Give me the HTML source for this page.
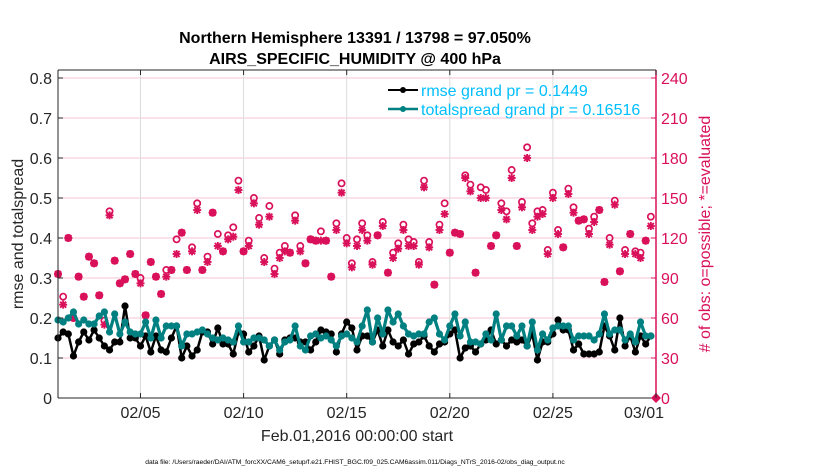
<!DOCTYPE html>
<html><head><meta charset="utf-8"><style>
body{margin:0;background:#fff;}
svg{display:block;font-family:"Liberation Sans",sans-serif;}
</style></head><body>
<svg id="chart" width="830" height="470" viewBox="0 0 830 470">
<rect x="0" y="0" width="830" height="470" fill="#fff"/>
<g id="grid"></g>
<g id="marks"></g>
<g id="axes"></g>
<text x="355" y="43" text-anchor="middle" font-size="16" font-weight="bold" fill="#000">Northern Hemisphere 13391 / 13798 = 97.050%</text>
<text x="355" y="64" text-anchor="middle" font-size="16" font-weight="bold" fill="#000">AIRS_SPECIFIC_HUMIDITY @ 400 hPa</text>
<text transform="translate(23,234) rotate(-90)" text-anchor="middle" font-size="16" fill="#262626">rmse and totalspread</text>
<text transform="translate(710,234) rotate(-90)" text-anchor="middle" font-size="16" fill="#d9105a"># of obs: o=possible; *=evaluated</text>
<text x="357" y="441" text-anchor="middle" font-size="16" fill="#262626">Feb.01,2016 00:00:00 start</text>
<text x="355" y="464" text-anchor="middle" font-size="6.7" fill="#000">data file: /Users/raeder/DAI/ATM_forcXX/CAM6_setup/f.e21.FHIST_BGC.f09_025.CAM6assim.011/Diags_NTrS_2016-02/obs_diag_output.nc</text>
<g>
<g>
<line x1="388" y1="90" x2="418" y2="90" stroke="#000" stroke-width="2"/>
<circle cx="403" cy="90" r="3" fill="#000"/>
<text x="421" y="96" font-size="16" fill="#00bfff">rmse grand pr = 0.1449</text>
</g>
<g>
<line x1="388" y1="109" x2="418" y2="109" stroke="#008080" stroke-width="2.5"/>
<circle cx="403" cy="109" r="3" fill="#008080"/>
<text x="421" y="115" font-size="16" fill="#00bfff">totalspread grand pr = 0.16516</text>
</g>
</g>
</svg>
<script>
const rmse=[.15,.165,.16,.105,.14,.165,.145,.17,.15,.13,.12,.14,.14,.23,.15,.15,.13,.155,.115,.155,.12,.115,.15,.18,.10,.13,.105,.12,.165,.165,.135,.175,.135,.135,.11,.165,.16,.115,.13,.155,.095,.13,.145,.11,.145,.15,.15,.14,.14,.12,.14,.17,.165,.16,.115,.16,.19,.175,.12,
.155,.155,.14,.17,.13,.17,.14,.13,.145,.11,.135,.14,.155,.13,.115,.135,.14,.16,.17,.10,.125,.13,.115,.135,.145,.17,.135,.145,.13,.145,.14,.145,.13,.16,.095,.14,.14,.16,.195,.17,.17,.12,.135,.11,.11,.11,.115,.18,.155,.12,.20,.13,.155,.115,.155,.135,.155];
const spread=[.195,.19,.20,.215,.185,.195,.185,.185,.205,.215,.165,.21,.16,.19,.165,.16,.16,.19,.15,.195,.15,.18,.18,.18,.13,.16,.16,.165,.17,.16,.15,.145,.15,.145,.14,.18,.14,.14,.15,.15,.145,.13,.145,.12,.14,.145,.18,.13,.12,.155,.16,.15,.155,.145,.13,.155,.16,.15,.14,
.18,.22,.14,.20,.16,.22,.19,.21,.18,.16,.155,.16,.16,.19,.20,.16,.145,.18,.21,.155,.19,.14,.14,.135,.16,.145,.21,.145,.18,.18,.155,.18,.13,.19,.12,.16,.145,.175,.18,.18,.18,.145,.155,.155,.155,.145,.16,.21,.16,.17,.17,.145,.16,.14,.19,.155,.155];
const evaluated=[93,70,120,60,91,76,106,101,77,55,137,103,86,89,108,93,86,62,102,91,78,91,96,108,124,96,110,141,96,
102,139,114,110,119,121,156,110,114,146,130,102,136,93,105,110,109,133,110,101,119,118,118,118,91,126,154,116,
98,114,126,118,100,122,129,94,105,112,126,114,114,100,158,113,85,126,138,109,124,123,165,155,94,150,150,114,122,141,
134,165,114,143,180,126,136,138,108,150,123,113,153,139,133,134,123,132,141,87,115,145,95,108,123,108,105,118,129];
const possible=[93,76,120,60,91,76,106,101,77,58,140,103,86,89,108,93,90,62,102,91,78,96,96,119,124,96,113,146,96,
106,139,123,110,122,128,163,110,118,150,135,105,144,97,109,114,109,137,114,101,119,118,125,118,91,131,161,120,
101,119,131,122,102,122,132,94,109,116,130,119,117,102,163,117,85,130,146,109,124,123,167,160,94,158,156,114,122,146,
140,171,114,147,188,131,140,141,111,154,126,113,157,143,133,134,127,136,141,87,120,148,95,111,123,110,109,118,136];
const leftTicks=[0,0.1,0.2,0.3,0.4,0.5,0.6,0.7,0.8];
const leftTickLabels=["0","0.1","0.2","0.3","0.4","0.5","0.6","0.7","0.8"];
const rightTicks=[0,30,60,90,120,150,180,210,240];
const dateTicks=[4,9,14,19,24,29];
const dateTickLabels=["02/05","02/10","02/15","02/20","02/25","03/01"];

const NS="http://www.w3.org/2000/svg";
const X0=58,X1=656,Y0=398,YT=70;
const xDay=d=>X0+d*(X1-X0)/29;
const xIdx=i=>xDay(i/4);
const yL=v=>Y0-v*400;
const yR=v=>Y0-v*400/300;
function mk(parent,tag,attrs){const e=document.createElementNS(NS,tag);for(const k in attrs)e.setAttribute(k,attrs[k]);parent.appendChild(e);return e;}
const grid=document.getElementById('grid'),marks=document.getElementById('marks'),axes=document.getElementById('axes');

rightTicks.forEach((t,i)=>{if(i===0)return;const l=mk(grid,'line',{x1:X0,x2:X1,y1:yR(t),y2:yR(t),stroke:'#f7c6d6','stroke-width':1});

});
dateTicks.forEach(d=>{const l=mk(grid,'line',{x1:xDay(d),x2:xDay(d),y1:YT,y2:Y0,stroke:'#dcdcdc','stroke-width':1});

});

possible.forEach((v,i)=>{const c=mk(marks,'circle',{cx:xIdx(i),cy:yR(v),r:3.1,fill:'none',stroke:'#d9105a','stroke-width':1.7});

});
evaluated.forEach((v,i)=>{const x=xIdx(i),y=yR(v);const g=mk(marks,'g',{stroke:'#d9105a','stroke-width':1.9});


mk(g,'line',{x1:x-4,x2:x+4,y1:y,y2:y});mk(g,'line',{x1:x,x2:x,y1:y-4,y2:y+4});
mk(g,'line',{x1:x-3,x2:x+3,y1:y-3,y2:y+3});mk(g,'line',{x1:x-3,x2:x+3,y1:y+3,y2:y-3});});
const dm=mk(marks,'path',{d:`M${X1-5},${Y0} L${X1},${Y0-5} L${X1+5},${Y0} L${X1},${Y0+5}Z`,fill:'#d9105a'});



function series(arr,color,w,r,name){
 const p=mk(marks,'polyline',{points:arr.map((v,i)=>xIdx(i)+','+yL(v)).join(' '),fill:'none',stroke:color,'stroke-width':w,'stroke-linejoin':'round'});
 
 
 arr.forEach((v,i)=>{const c=mk(marks,'circle',{cx:xIdx(i),cy:yL(v),r:r,fill:color});
 
 });
}
series(rmse,'#000',2.5,3.6,'rmse');
series(spread,'#008080',3.2,3.6,'totalspread');

const la=mk(axes,'line',{x1:X0,x2:X0,y1:YT,y2:Y0,stroke:'#262626','stroke-width':1});


const ba=mk(axes,'line',{x1:X0,x2:X1,y1:Y0,y2:Y0,stroke:'#262626','stroke-width':1});


const ta=mk(axes,'line',{x1:X0,x2:X1,y1:YT,y2:YT,stroke:'#262626','stroke-width':1});


const ra=mk(axes,'line',{x1:X1,x2:X1,y1:YT,y2:Y0,stroke:'#d9105a','stroke-width':1.5});


leftTicks.forEach((t,i)=>{mk(axes,'line',{x1:X0,x2:X0+5,y1:yL(t),y2:yL(t),stroke:'#262626'});
 const tx=mk(axes,'text',{x:X0-6,y:yL(t)+6,'text-anchor':'end','font-size':16,fill:'#262626'});tx.textContent=leftTickLabels[i];
 
 });
rightTicks.forEach(t=>{mk(axes,'line',{x1:X1-5,x2:X1,y1:yR(t),y2:yR(t),stroke:'#d9105a'});
 const tx=mk(axes,'text',{x:X1+5,y:yR(t)+6,'font-size':16,fill:'#d9105a'});tx.textContent=String(t);
 
 });
dateTicks.forEach((d,i)=>{mk(axes,'line',{x1:xDay(d),x2:xDay(d),y1:Y0,y2:Y0-5,stroke:'#262626'});
 mk(axes,'line',{x1:xDay(d),x2:xDay(d),y1:YT,y2:YT+5,stroke:'#262626'});
 const tx=mk(axes,'text',{x:i===dateTicks.length-1?xDay(d)-12:xDay(d),y:418,'text-anchor':'middle','font-size':16,fill:'#262626'});tx.textContent=dateTickLabels[i];
 
 });
</script>
</body></html>
